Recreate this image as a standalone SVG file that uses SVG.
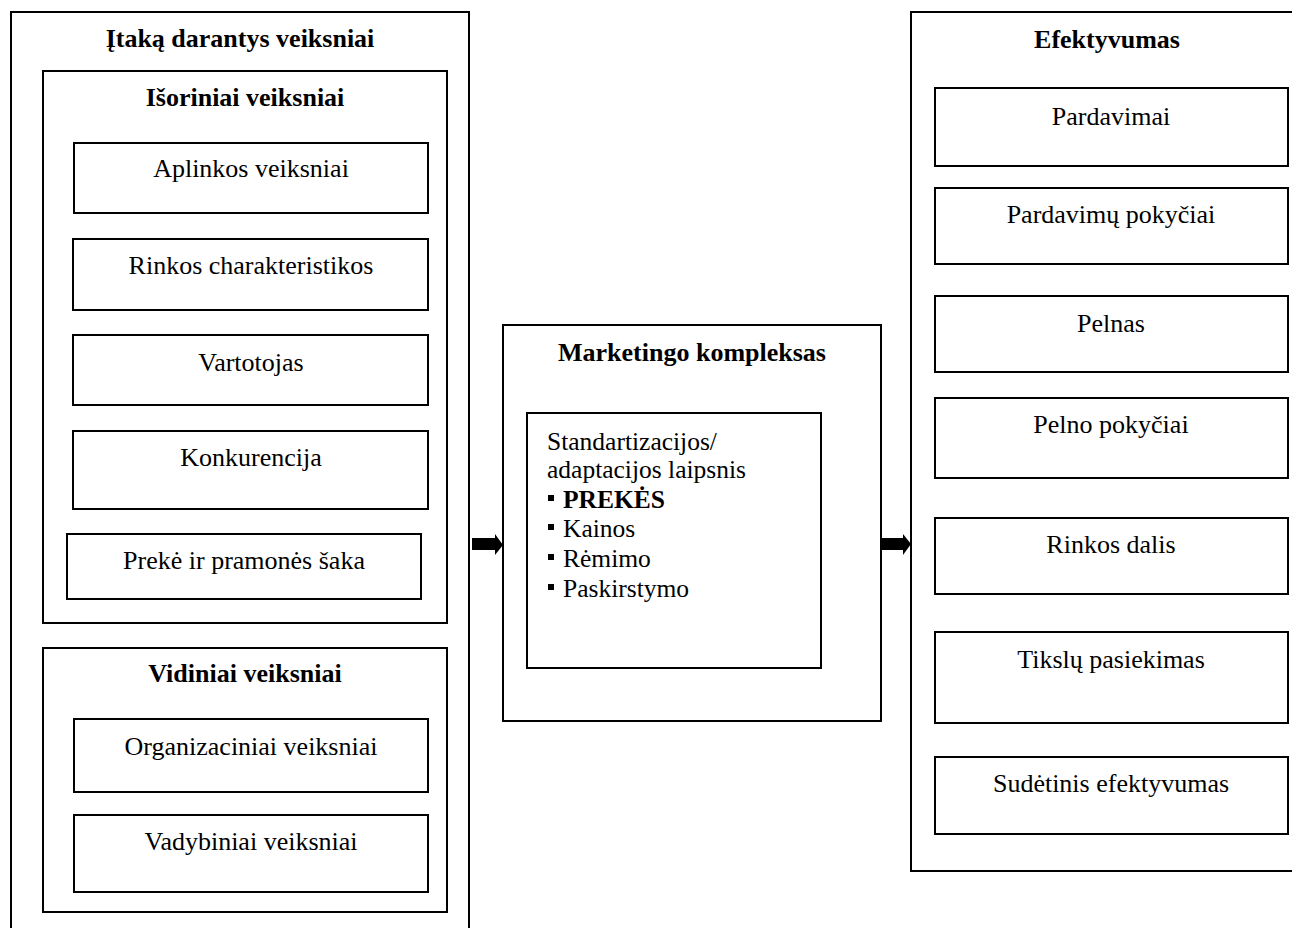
<svg xmlns="http://www.w3.org/2000/svg" width="1292" height="928" viewBox="0 0 1292 928">
  <defs>
    <style>
      .box { fill: #ffffff; stroke: #000000; stroke-width: 2; }
      .frame { fill: none; stroke: #000000; stroke-width: 2; }
      .lbl { font-family: 'Liberation Serif', Tinos, 'Times New Roman', Times, 'DejaVu Serif', serif; font-size: 26px; fill: #000000; text-anchor: middle; }
      .ttl { font-family: 'Liberation Serif', Tinos, 'Times New Roman', Times, 'DejaVu Serif', serif; font-size: 26px; font-weight: bold; fill: #000000; text-anchor: middle; }
      .lst { font-family: 'Liberation Serif', Tinos, 'Times New Roman', Times, 'DejaVu Serif', serif; font-size: 25.5px; fill: #000000; }
      .arrow { fill: #000000; stroke: none; }
    </style>
  </defs>
  <rect width="1292" height="928" fill="#ffffff"/>

  <!-- Influencing factors column -->
  <g id="itaka">
    <path class="frame" d="M11,940 V12 H469 V940"/>
    <text class="ttl" x="240" y="47">Įtaką darantys veiksniai</text>
  </g>
  <g id="isoriniai">
    <rect class="box" x="43" y="71" width="404" height="552"/>
    <text class="ttl" x="245" y="106">Išoriniai veiksniai</text>
  </g>
  <g id="aplinkos">
    <rect class="box" x="74" y="143" width="354" height="70"/>
    <text class="lbl" x="251" y="177">Aplinkos veiksniai</text>
  </g>
  <g id="rinkos-char">
    <rect class="box" x="73" y="239" width="355" height="71"/>
    <text class="lbl" x="251" y="274">Rinkos charakteristikos</text>
  </g>
  <g id="vartotojas">
    <rect class="box" x="73" y="335" width="355" height="70"/>
    <text class="lbl" x="251" y="371">Vartotojas</text>
  </g>
  <g id="konkurencija">
    <rect class="box" x="73" y="431" width="355" height="78"/>
    <text class="lbl" x="251" y="466">Konkurencija</text>
  </g>
  <g id="preke-saka">
    <rect class="box" x="67" y="534" width="354" height="65"/>
    <text class="lbl" x="244" y="569">Prekė ir pramonės šaka</text>
  </g>
  <g id="vidiniai">
    <rect class="box" x="43" y="648" width="404" height="264"/>
    <text class="ttl" x="245" y="682">Vidiniai veiksniai</text>
  </g>
  <g id="organizaciniai">
    <rect class="box" x="74" y="719" width="354" height="73"/>
    <text class="lbl" x="251" y="755">Organizaciniai veiksniai</text>
  </g>
  <g id="vadybiniai">
    <rect class="box" x="74" y="815" width="354" height="77"/>
    <text class="lbl" x="251" y="850">Vadybiniai veiksniai</text>
  </g>

  <!-- Marketing mix -->
  <g id="marketingo">
    <rect class="box" x="503" y="325" width="378" height="396"/>
    <text class="ttl" x="692" y="361">Marketingo kompleksas</text>
  </g>
  <g id="laipsnis">
    <rect class="box" x="527" y="413" width="294" height="255"/>
    <text class="lst" x="547" y="450">Standartizacijos/</text>
    <text class="lst" x="547" y="478">adaptacijos laipsnis</text>
    <rect class="arrow" x="548" y="495" width="6" height="6"/>
    <text class="lst" x="563" y="508" font-weight="bold">PREKĖS</text>
    <rect class="arrow" x="548" y="524" width="6" height="6"/>
    <text class="lst" x="563" y="537">Kainos</text>
    <rect class="arrow" x="548" y="554" width="6" height="6"/>
    <text class="lst" x="563" y="567">Rėmimo</text>
    <rect class="arrow" x="548" y="584" width="6" height="6"/>
    <text class="lst" x="563" y="597">Paskirstymo</text>
  </g>

  <!-- Performance column -->
  <g id="efektyvumas">
    <path class="frame" d="M1300,12 H911 V871 H1300"/>
    <text class="ttl" x="1107" y="48">Efektyvumas</text>
  </g>
  <g id="pardavimai">
    <rect class="box" x="935" y="88" width="353" height="78"/>
    <text class="lbl" x="1111" y="125">Pardavimai</text>
  </g>
  <g id="pardavimu-pokyciai">
    <rect class="box" x="935" y="188" width="353" height="76"/>
    <text class="lbl" x="1111" y="223">Pardavimų pokyčiai</text>
  </g>
  <g id="pelnas">
    <rect class="box" x="935" y="296" width="353" height="76"/>
    <text class="lbl" x="1111" y="332">Pelnas</text>
  </g>
  <g id="pelno-pokyciai">
    <rect class="box" x="935" y="398" width="353" height="80"/>
    <text class="lbl" x="1111" y="433">Pelno pokyčiai</text>
  </g>
  <g id="rinkos-dalis">
    <rect class="box" x="935" y="518" width="353" height="76"/>
    <text class="lbl" x="1111" y="553">Rinkos dalis</text>
  </g>
  <g id="tikslu">
    <rect class="box" x="935" y="632" width="353" height="91"/>
    <text class="lbl" x="1111" y="668">Tikslų pasiekimas</text>
  </g>
  <g id="sudetinis">
    <rect class="box" x="935" y="757" width="353" height="77"/>
    <text class="lbl" x="1111" y="792">Sudėtinis efektyvumas</text>
  </g>

  <!-- Block arrows between columns -->
  <g id="connectors">
    <polygon class="arrow" points="472,538 495,538 495,534 503,545 495,555 495,550 472,550"/>
    <polygon class="arrow" points="881,538 903,538 903,534 911,544 903,555 903,550 881,550"/>
  </g>
</svg>
